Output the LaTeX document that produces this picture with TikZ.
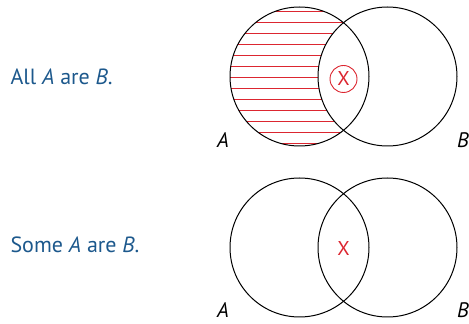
\documentclass[tikz,border=0pt]{standalone}
\usepackage{fontspec}
\setmainfont{PT Sans}
\usetikzlibrary{positioning}
\definecolor{capblue}{RGB}{28,88,140}
\definecolor{hatchred}{RGB}{220,38,48}

\begin{document}
\begin{tikzpicture}[x=1pt,y=1pt]
		\tikzset{venn/.style={circle,draw=black,line width=1pt,minimum size=139pt,inner sep=0pt},
			setlabel/.style={font=\fontsize{21}{21}\selectfont\itshape},
			caption/.style={anchor=west,text=capblue,font=\fontsize{22}{22}\selectfont},
			hatch/.style={hatchred,line width=0.7pt}};
		\useasboundingbox (0,0) rectangle (469,324);
		
		% all A are B
		\coordinate (cA1) at (299.5,247.5);
		\coordinate (cB1) at (387.5,247.5);
		\begin{scope}
			\clip (cA1) circle (69.5);
			\foreach \k in {-6,...,6}
				\draw[hatch] (220,247+11*\k) -- (380,247+11*\k);
			\fill[white] (cB1) circle (69.5);
		\end{scope}
		\node[venn] (A1) at (cA1) {};
		\node[venn] (B1) at (cB1) {};
		\node[circle,draw=hatchred,line width=0.9pt,minimum size=27pt,inner sep=0pt,text=hatchred,font=\fontsize{20}{20}\selectfont] (x1) at (343.5,245) {X};
		\node[caption] (t1) at (7,247) {All \textit{A} are \textit{B}.};
		\node[setlabel] (a1) at (223,184) {A};
		\node[setlabel] (b1) at (463,184) {B};
		
		% some A are B
		\node[venn] (A2) at (299.5,76.5) {};
		\node[venn] (B2) at (387.5,76.5) {};
		\node[text=hatchred,font=\fontsize{20}{20}\selectfont] (x2) at (343.5,75) {X};
		\node[caption] (t2) at (7,79) {Some \textit{A} are \textit{B}.};
		\node[setlabel] (a2) at (223,14) {A};
		\node[setlabel] (b2) at (463,14) {B};
	\end{tikzpicture}
\end{document}
